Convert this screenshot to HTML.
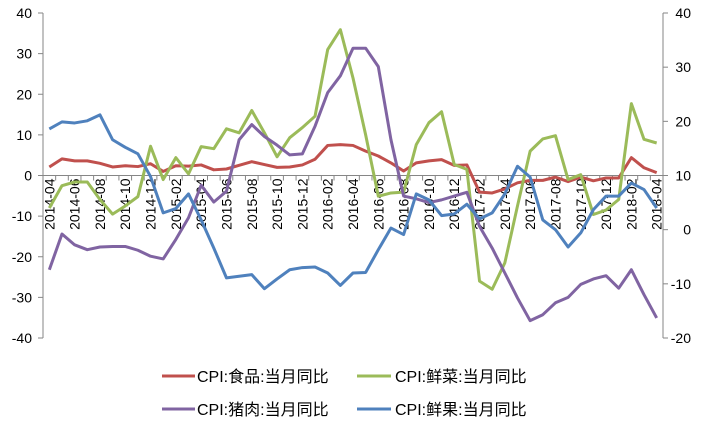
<!DOCTYPE html>
<html><head><meta charset="utf-8"><style>
body{margin:0;background:#fff;}
svg{display:block;font-family:"Liberation Sans","Noto Sans CJK SC",sans-serif;}
</style></head><body>
<svg id="chart" width="706" height="422" viewBox="0 0 706 422" xmlns="http://www.w3.org/2000/svg">
<g id="axes"></g><g id="series"></g>
<g id="legend" font-size="16">
 <g><line x1="162" y1="376" x2="195" y2="376" stroke="#C0504D" stroke-width="3"/><text x="197" y="382">CPI:食品:当月同比</text></g>
 <g><line x1="357" y1="376" x2="391" y2="376" stroke="#9BBB59" stroke-width="3"/><text x="395" y="382">CPI:鲜菜:当月同比</text></g>
 <g><line x1="162" y1="409" x2="195" y2="409" stroke="#8064A2" stroke-width="3"/><text x="197" y="415">CPI:猪肉:当月同比</text></g>
 <g><line x1="357" y1="409" x2="391" y2="409" stroke="#4F81BD" stroke-width="3"/><text x="395" y="415">CPI:鲜果:当月同比</text></g>
</g>
</svg>
<script>
const categories=(function(){const a=[];for(let y=2014,m=4;a.length<49;){a.push(y+'-'+String(m).padStart(2,'0'));m++;if(m>12){m=1;y++;}}return a;})();
const food=[2.1,4.1,3.6,3.6,3.0,2.1,2.4,2.2,2.9,1.0,2.4,2.3,2.6,1.4,1.6,2.5,3.4,2.7,2.0,2.1,2.6,4.0,7.4,7.6,7.4,6.0,4.8,3.1,1.1,3.1,3.6,3.9,2.5,2.6,-4.1,-4.3,-3.3,-1.8,-1.2,-1.2,-0.4,-1.5,-0.4,-1.3,-0.6,-0.6,4.4,1.9,0.7];
const vegetables=[-8,-2.5,-1.6,-1.6,-5.9,-9.5,-7.5,-5.2,7.2,-1,4.4,0.4,7.1,6.6,11.5,10.5,16,10.5,4.6,9.3,11.8,14.6,31,35.9,24,10,-5.1,-4.3,-4.1,7.6,13,15.7,2.7,1.5,-26,-28,-21.5,-7.5,6,9,9.8,-1,0.2,-9.6,-8.5,-5.9,17.7,8.9,8];
const pork=[-7.4,-0.8,-2.8,-3.7,-3.2,-3.1,-3.1,-3.8,-4.9,-5.4,-1.8,2.2,8.2,5.1,7.1,16.6,19.4,17.2,15.6,13.8,14,19.1,25.3,28.4,33.5,33.5,30.1,16.6,6.2,5.7,5,5.5,6.2,6.9,0.6,-3.4,-8,-12.6,-16.8,-15.7,-13.5,-12.5,-10.1,-9.1,-8.5,-10.8,-7.4,-12,-16.3];
const fruit=[18.6,19.9,19.7,20.1,21.2,16.6,15.2,14,9.8,3.1,3.9,6.6,1.8,-3.4,-8.9,-8.6,-8.3,-10.9,-9.1,-7.4,-7,-6.9,-8,-10.3,-8,-7.9,-3.7,0.3,-0.9,6.6,5.5,2.6,2.9,4.7,2,3.1,6.6,11.7,9.7,1.8,0,-3.2,-0.6,3.7,6.2,6.2,8.6,7.4,4];
const leftTicks=[40,30,20,10,0,-10,-20,-30,-40];
const rightTicks=[40,30,20,10,0,-10,-20];
const NS='http://www.w3.org/2000/svg';
const X0=43,X1=663,YT=13,YB=338;
const band=(X1-X0)/categories.length;
const xS=i=>X0+band*(i+0.5);
const yL=v=>YT+(40-v)*(YB-YT)/80;
const yR=v=>YT+(40-v)*(YB-YT)/60;
function mk(t,a,p){const e=document.createElementNS(NS,t);for(const k in a)e.setAttribute(k,a[k]);p.appendChild(e);return e;}
const ax=document.getElementById('axes');
let e=mk('line',{x1:X0,y1:YT,x2:X0,y2:YB,stroke:'#868686'},ax);


e=mk('line',{x1:X1,y1:YT,x2:X1,y2:YB,stroke:'#868686'},ax);


e=mk('line',{x1:X0,y1:yL(0),x2:X1,y2:yL(0),stroke:'#868686'},ax);


leftTicks.forEach(v=>{mk('line',{x1:X0-5,y1:yL(v),x2:X0,y2:yL(v),stroke:'#868686'},ax);
 const t=mk('text',{x:X0-11,y:yL(v)+5,'text-anchor':'end','font-size':14},ax);t.textContent=v;
 
 });
rightTicks.forEach(v=>{mk('line',{x1:X1,y1:yR(v),x2:X1+5,y2:yR(v),stroke:'#868686'},ax);
 const t=mk('text',{x:X1+28,y:yR(v)+5,'text-anchor':'end','font-size':14},ax);t.textContent=v;
 
 });
categories.forEach((c,i)=>{const xb=X0+band*i;mk('line',{x1:xb,y1:yL(0),x2:xb,y2:yL(0)+5,stroke:'#868686'},ax);
 if(i%2===0){const x=xS(i)+5,y=yL(0)+3;const t=mk('text',{x:x,y:y,'text-anchor':'end','font-size':14,transform:`rotate(-90 ${x} ${y})`},ax);t.textContent=c;
 
 }});
const sg=document.getElementById('series');
function line(d,ys,col,name){const p=mk('polyline',{points:d.map((v,i)=>xS(i)+','+ys(v)).join(' '),fill:'none',stroke:col,'stroke-width':3,'stroke-linejoin':'round'},sg);
 
 }
line(food,yL,'#C0504D','food-line');
line(vegetables,yL,'#9BBB59','vegetables-line');
line(pork,yR,'#8064A2','pork-line');
line(fruit,yR,'#4F81BD','fruit-line');
</script>
</body></html>
